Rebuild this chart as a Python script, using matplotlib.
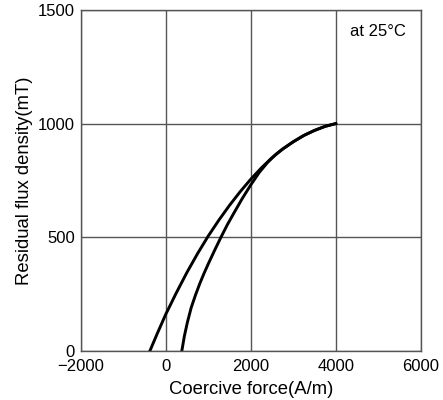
import matplotlib.pyplot as plt

plt.rcParams['font.family'] = ['Liberation Sans', 'DejaVu Sans']

# outer curve (left, crosses x=0 above zero)
outer_h = [-370, -200, 0, 250, 500, 750, 1000, 1250, 1500, 1750, 2000, 2250, 2500,
           2750, 3000, 3250, 3500, 3750, 4000]
outer_b = [0, 75, 160, 255, 345, 428, 505, 575, 640, 700, 755, 805, 850,
           888, 920, 948, 970, 988, 1000]

# inner curve (right, starts at positive H, joins the outer one near 2750)
inner_h = [380, 440, 510, 600, 700, 800, 900, 1000, 1150, 1300, 1450, 1600, 1800,
           2000, 2200, 2400, 2600, 2750, 3000, 3250, 3500, 3750, 4000]
inner_b = [0, 65, 125, 190, 245, 295, 340, 382, 442, 500, 555, 605, 670,
           730, 785, 830, 866, 888, 920, 948, 970, 988, 1000]

x_ticks = [-2000, 0, 2000, 4000, 6000]
x_labels = ['\u22122000', '0', '2000', '4000', '6000']
y_ticks = [0, 500, 1000, 1500]

fig = plt.figure(figsize=(4.43, 4.0), dpi=100)
ax = fig.add_axes([0.182, 0.123, 0.768, 0.852])

ax.plot(outer_h, outer_b, color='black', lw=2.1, solid_joinstyle='round')
ax.plot(inner_h, inner_b, color='black', lw=2.1, solid_joinstyle='round')

ax.set_xlim(-2000, 6000)
ax.set_ylim(0, 1500)
ax.set_xticks(x_ticks)
ax.set_yticks(y_ticks)
ax.set_xticklabels(x_labels)
ax.tick_params(length=0, labelsize=12, pad=4)
ax.tick_params(axis='x', pad=6)
ax.grid(True, color='#555555', lw=1.0)
ax.set_axisbelow(True)
for s in ax.spines.values():
    s.set_color('#555555')
    s.set_linewidth(1.0)

ax.set_xlabel('Coercive force(A/m)', fontsize=13.3, labelpad=5)
ax.set_ylabel('Residual flux density(mT)', fontsize=13.3, labelpad=4)
ax.text(5000, 1405, 'at 25°C', ha='center', va='center', fontsize=12)

fig.savefig('out.png', dpi=100)
